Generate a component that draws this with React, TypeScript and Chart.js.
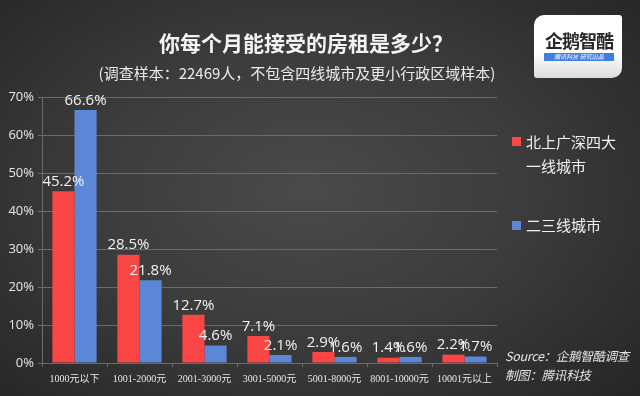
import React, { useEffect, useRef } from "react";
import { Chart, registerables } from "chart.js";

Chart.register(...registerables);

const categories = ["1000元以下", "1001-2000元", "2001-3000元", "3001-5000元", "5001-8000元", "8001-10000元", "10001元以上"];
const tier1Values = [45.2, 28.5, 12.7, 7.1, 2.9, 1.4, 2.2];
const tier23Values = [66.6, 21.8, 4.6, 2.1, 1.6, 1.6, 1.7];
const seriesNames = ["北上广深四大一线城市", "二三线城市"];
const yTicks = [0, 10, 20, 30, 40, 50, 60, 70];

const RED = "#fb4646";
const BLUE = "#5b87d6";
const GRID = "#6c6c6c";

const labelPlugin = {
  id: "valueLabels",
  afterDatasetsDraw(chart: any) {
    const ctx = chart.ctx;
    ctx.save();
    ctx.font = "15px 'Open Sans', 'Noto Sans CJK SC', sans-serif";
    ctx.fillStyle = "#f2f2f2";
    ctx.textAlign = "center";
    ctx.textBaseline = "bottom";
    chart.data.datasets.forEach((ds: any, di: number) => {
      const meta = chart.getDatasetMeta(di);
      meta.data.forEach((el: any, i: number) => {
        ctx.fillText(ds.data[i].toFixed(1) + "%", el.x, el.y - 2);
      });
    });
    ctx.restore();
  },
};

export default function App() {
  const ref = useRef<HTMLCanvasElement | null>(null);
  useEffect(() => {
    const chart = new Chart(ref.current!, {
      type: "bar",
      data: {
        labels: categories,
        datasets: [
          { label: seriesNames[0], data: tier1Values, backgroundColor: RED, barPercentage: 1, categoryPercentage: 0.68 },
          { label: seriesNames[1], data: tier23Values, backgroundColor: BLUE, barPercentage: 1, categoryPercentage: 0.68 },
        ],
      },
      options: {
        animation: false,
        responsive: false,
        maintainAspectRatio: false,
        layout: { padding: { left: 0, top: 97, right: 143, bottom: 0 } },
        plugins: { legend: { display: false }, tooltip: { enabled: false }, title: { display: false } },
        scales: {
          x: {
            grid: { display: true, drawOnChartArea: false, drawTicks: true, tickLength: 4, color: GRID, offset: true },
            border: { color: GRID },
            ticks: { color: "#e8e8e8", font: { size: 10, family: "'Liberation Serif', 'Noto Sans CJK SC', serif" }, padding: 6, maxRotation: 0, autoSkip: false },
            afterFit: (s: any) => { s.height = 33; },
          },
          y: {
            min: 0,
            max: 70,
            afterBuildTicks: (s: any) => { s.ticks = yTicks.map((v) => ({ value: v })); },
            grid: { color: GRID, drawTicks: true, tickLength: 4 },
            border: { color: GRID },
            ticks: { color: "#e8e8e8", font: { size: 13, family: "'Open Sans', sans-serif" }, padding: 4, callback: (v: any) => v + "%" },
            afterFit: (s: any) => { s.width = 42; },
          },
        },
      },
      plugins: [labelPlugin],
    });
    return () => chart.destroy();
  }, []);

  const textFont = "'Noto Sans CJK SC', 'Open Sans', sans-serif";
  return (
    <div
      style={{
        position: "fixed",
        left: 0,
        top: 0,
        width: 640,
        height: 396,
        overflow: "hidden",
        background: "radial-gradient(ellipse 75% 80% at 48% 48%, #4a4a4a 0%, #3c3c3c 45%, #2a2a2a 85%, #232323 100%)",
        fontFamily: textFont,
      }}
    >
      <canvas ref={ref} width={640} height={396} style={{ position: "absolute", left: 0, top: 0 }} />
      <div style={{ position: "absolute", left: 0, width: 612, top: 28, textAlign: "center", color: "#f4f4f4", fontSize: 21, fontWeight: 700, lineHeight: "28px" }}>
        你每个月能接受的房租是多少？
      </div>
      <div style={{ position: "absolute", left: 0, width: 594, top: 62, textAlign: "center", color: "#ececec", fontSize: 15, lineHeight: "22px" }}>
        (调查样本：22469人，不包含四线城市及更小行政区域样本)
      </div>
      <div
        style={{
          position: "absolute",
          left: 534,
          top: 15,
          width: 88,
          height: 63,
          borderRadius: "10px 3px 10px 3px",
          background: "linear-gradient(#ffffff 0%, #ffffff 60%, #dcdcdc 100%)",
        }}
      >
        <div style={{ position: "absolute", left: 6, top: 14, width: 78, textAlign: "center", fontSize: 18, lineHeight: "22px", color: "#2a2a2a", fontWeight: 700, letterSpacing: -1 }}>
          企鹅智酷
        </div>
        <div style={{ position: "absolute", left: 10, top: 38, width: 70, height: 8, background: "#3f7fe0", color: "#fff", fontSize: 6, lineHeight: "8px", textAlign: "center", fontStyle: "italic", whiteSpace: "nowrap" }}>
          腾讯科技 研究出品
        </div>
      </div>
      <div style={{ position: "absolute", left: 512, top: 137, width: 9, height: 9, background: RED }} />
      <div style={{ position: "absolute", left: 526, top: 130, color: "#f0f0f0", fontSize: 15, lineHeight: "24px" }}>
        北上广深四大
        <br />
        一线城市
      </div>
      <div style={{ position: "absolute", left: 512, top: 221, width: 9, height: 9, background: BLUE }} />
      <div style={{ position: "absolute", left: 526, top: 213, color: "#f0f0f0", fontSize: 15, lineHeight: "24px" }}>二三线城市</div>
      <div style={{ position: "absolute", left: 505, top: 346, color: "#e4e4e4", fontSize: 12.5, lineHeight: "19px", fontStyle: "italic", whiteSpace: "nowrap", letterSpacing: -0.3 }}>
        Source：企鹅智酷调查
        <br />
        制图：腾讯科技
      </div>
    </div>
  );
}
